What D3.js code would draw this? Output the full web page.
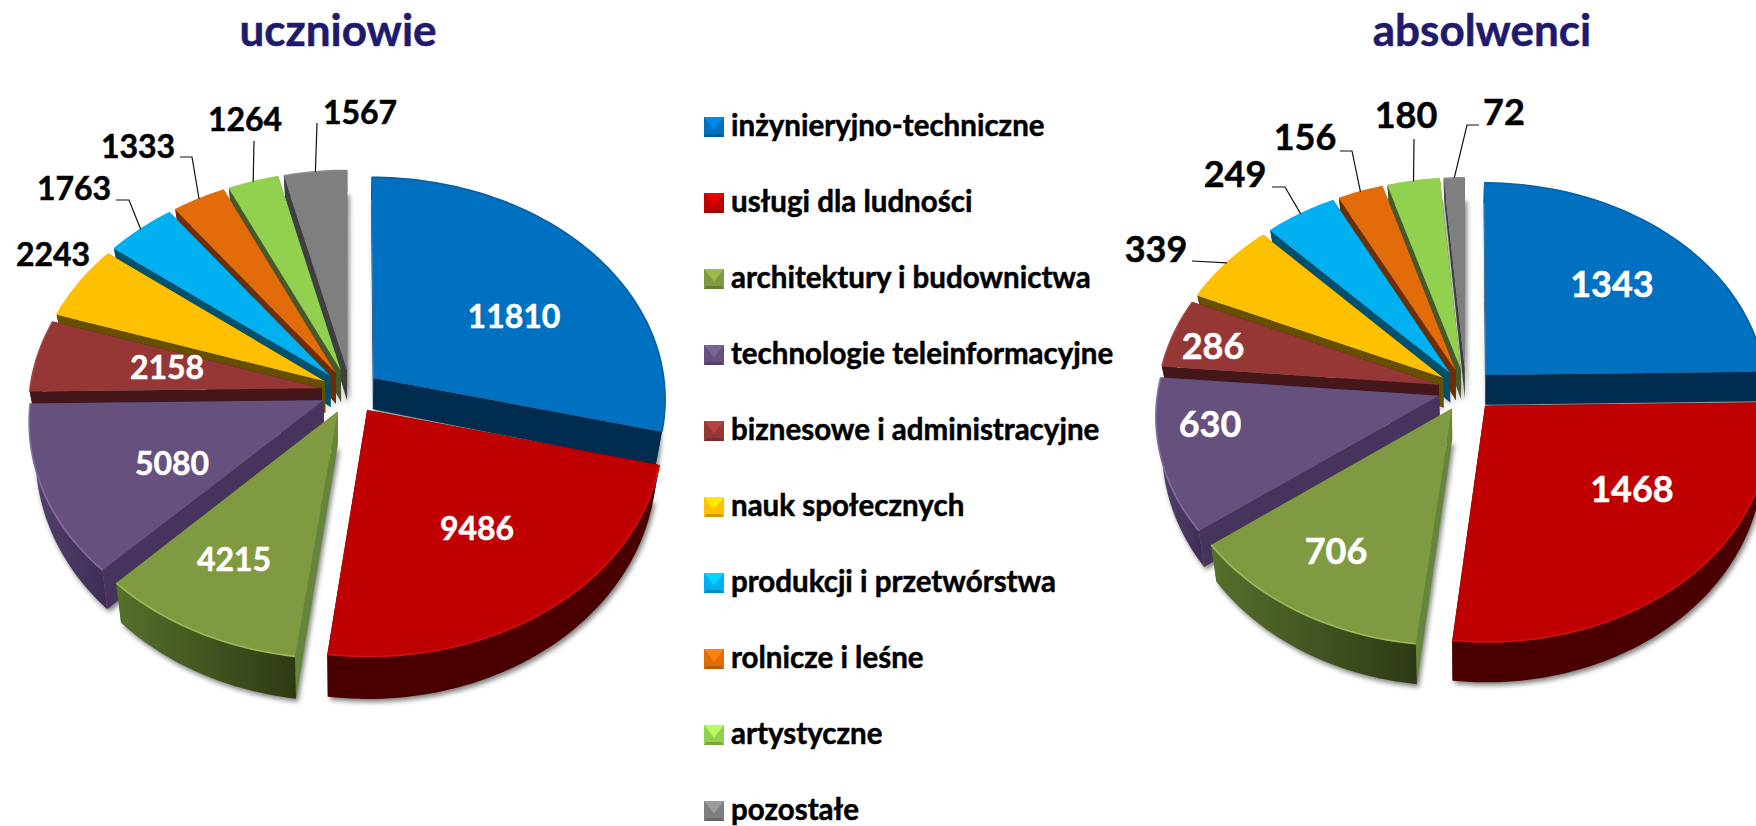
<!DOCTYPE html>
<html lang="pl">
<head>
<meta charset="utf-8">
<title>uczniowie i absolwenci</title>
<script src="https://cdn.jsdelivr.net/npm/d3@7/dist/d3.min.js"></script>
<style>
html,body{margin:0;padding:0;background:#fff;overflow:hidden}
svg{display:block}
text{font-family:Lato,"Open Sans",sans-serif;font-weight:700;stroke:currentColor;stroke-width:.5px;paint-order:stroke}
</style>
</head>
<body>
<div id="chart"></div>
<script>
// ---- data ----
const categories = ["inżynieryjno-techniczne","usługi dla ludności","architektury i budownictwa","technologie teleinformacyjne","biznesowe i administracyjne","nauk społecznych","produkcji i przetwórstwa","rolnicze i leśne","artystyczne","pozostałe"];
const uczniowie  = [11810,9486,4215,5080,2158,2243,1763,1333,1264,1567];
const absolwenci = [1343,1468,706,630,286,339,249,156,180,72];

// ---- styles ----
const topColors  = ["#0070c0","#c00000","#7f9a41","#65507e","#953735","#ffc000","#00b0f0","#e36c0a","#92d050","#7f7f7f"];
const rimColors  = ["#0a5f9f","#d01212","#9cbc5c","#8470a6","#a34442","#ffc000","#00b0f0","#e36c0a","#92d050","#8a8a8a"];
const faceColors = ["#002c50","#4a0000","#66843a","#47345c","#45171a","#665000","#00506f","#6b2e08","#45592a","#3f3f3f"];
const wallLeft   = ["#002c50","#4a0000","#56702c","#54416f","#45171a","#665000","#00506f","#6b2e08","#45592a","#3f3f3f"];
const wallRight  = ["#002c50","#4a0000","#2f3a14","#3f2f55","#45171a","#665000","#00506f","#6b2e08","#45592a","#3f3f3f"];

// ---- layout ----
const W = 1756, H = 826;
const pies = [
  { id:"l", title:"uczniowie",  titleX:338,  values:uczniowie,  cx:350.5, cy:391.5, rx:292, ky:221, wall:32,   font:32,
    labels:[[514,316],[477,528],[234,559],[172,463],[167,367],[53,254],[74,188],[138,146],[245,119],[360,112]],
    inside:[1,1,1,1,1,0,0,0,0,0],
    leaders:[null,null,null,null,null,null,[[129,200],[116,200]],[[192,157],[180,157]],[[254,141]],[[317,123]]] },
  { id:"r", title:"absolwenci", titleX:1482, values:absolwenci, cx:1466, cy:390,   rx:281, ky:212, wall:30.5, font:36,
    labels:[[1612,284],[1632,489],[1336,551],[1210,424],[1213,346],[1156,249],[1235,174],[1305,137],[1406,115],[1504,112]],
    inside:[1,1,1,1,1,0,0,0,0,0],
    leaders:[null,null,null,null,null,[[1192,261]],[[1285,187],[1272,187]],[[1352,151],[1340,151]],[[1414,139]],[[1467,125],[1479,125]]] }
];
const persp = 0.09, explode = 0.1, wallGrow = 0.3, bottomShrink = 0.98;

const colorOf = d3.scaleOrdinal().domain(categories).range(topColors);
const svg = d3.select("#chart").append("svg").attr("width",W).attr("height",H).attr("viewBox",`0 0 ${W} ${H}`);
const defs = svg.append("defs");
defs.append("filter").attr("id","soft").attr("x","-10%").attr("y","-10%").attr("width","120%").attr("height","120%")
  .append("feGaussianBlur").attr("stdDeviation",2.6);
const lineGen = d3.line();

pies.forEach(p => {
  const project = (u,v,bottom) => {
    const s = 1/(1-persp*v);
    let x = p.cx + p.rx*u*s, y = p.cy + p.ky*v*s;
    if (bottom) { x = p.cx + (x-p.cx)*bottomShrink; y += p.wall*(1+wallGrow*v); }
    return [x,y];
  };
  const arcs = d3.pie().sort(null).value(d=>d)(p.values).map((a,i) => {
    const mid = (a.startAngle+a.endAngle)/2;
    return {...a, i, mid, u0:explode*Math.sin(mid), v0:-explode*Math.cos(mid)};
  });
  const rimPts = (a,bottom) => {
    const n = Math.max(6,Math.ceil((a.endAngle-a.startAngle)*40));
    return d3.range(n+1).map(k => {
      const t = a.startAngle+(a.endAngle-a.startAngle)*k/n;
      return project(a.u0+Math.sin(t), a.v0-Math.cos(t), bottom);
    });
  };
  const apex = (a,bottom) => project(a.u0,a.v0,bottom);
  const closed = pts => lineGen(pts)+"Z";
  const g = svg.append("g").attr("class","pie-"+p.id);

  // soft shadow beneath the solid
  const sh = g.append("g").attr("filter","url(#soft)").attr("transform","translate(2,3)");
  arcs.forEach(a => sh.append("path").attr("d",closed([apex(a,true),...rimPts(a,true)])).attr("fill","rgba(0,0,0,.5)"));

  // painter's order: far slices first
  const order = arcs.slice().sort((a,b)=>d3.descending(Math.cos(a.mid),Math.cos(b.mid)));
  order.forEach(a => {
    const i = a.i, top = rimPts(a,false), bot = rimPts(a,true);
    const gid = `wall-${p.id}-${i}`;
    const xs = top.map(d=>d[0]);
    const gr = defs.append("linearGradient").attr("id",gid).attr("gradientUnits","userSpaceOnUse")
      .attr("x1",d3.min(xs)).attr("x2",d3.max(xs)).attr("y1",0).attr("y2",0);
    gr.append("stop").attr("offset",0).attr("stop-color",wallLeft[i]);
    gr.append("stop").attr("offset",1).attr("stop-color",wallRight[i]);
    const s = g.append("g").attr("class","slice");
    // cut faces
    s.append("path").attr("d",closed([apex(a),top[0],bot[0],apex(a,true)])).attr("fill",faceColors[i]);
    s.append("path").attr("d",closed([apex(a),top[top.length-1],bot[bot.length-1],apex(a,true)])).attr("fill",faceColors[i]);
    // outer wall
    s.append("path").attr("d",closed([...top,...bot.slice().reverse()])).attr("fill",`url(#${gid})`);
    // top face
    s.append("path").attr("d",closed([apex(a),...top])).attr("fill",colorOf(categories[i]))
      .datum(p.values[i]);
    s.append("path").attr("d",lineGen(top)).attr("fill","none").attr("stroke",rimColors[i]).attr("stroke-width",1.6);
  });

  // title
  svg.append("text").attr("x",p.titleX).attr("y",30).attr("dy","0.36em").attr("text-anchor","middle")
    .attr("font-size",44).style("color","#1f1a6e").attr("fill","#1f1a6e").text(p.title);

  // leaders & value labels
  arcs.forEach(a => {
    const i = a.i;
    if (p.leaders[i]) {
      const start = project(a.u0+Math.sin(a.mid), a.v0-Math.cos(a.mid));
      svg.append("path").attr("d",lineGen([start,...p.leaders[i]])).attr("fill","none")
        .attr("stroke","#111").attr("stroke-width",1.2);
    }
    const [lx,ly] = p.labels[i];
    const col = p.inside[i]?"#fff":"#000";
    svg.append("text").attr("x",lx).attr("y",ly).attr("dy","0.36em").attr("text-anchor","middle")
      .attr("font-size",p.font).style("color",col).attr("fill",col).text(d3.format("d")(p.values[i]));
  });
});

// legend
const legendY = d3.scalePoint().domain(categories).range([127,811]);
const lx0 = 704, ls = 20;
const lg = svg.append("g").attr("class","legend");
categories.forEach((c,i) => {
  const y = legendY(c)-ls/2, x = lx0, base = d3.color(colorOf(c));
  const row = lg.append("g");
  const poly = (pts,col)=>row.append("path").attr("d",lineGen(pts)+"Z").attr("fill",col);
  poly([[x,y],[x+ls,y],[x+ls,y+ls],[x,y+ls]], base);
  poly([[x,y],[x+ls,y],[x+ls/2,y+ls*.62]], base.brighter(0.55));
  poly([[x,y+ls],[x+ls,y+ls],[x+ls-3,y+ls-3],[x+3,y+ls-3]], base.darker(0.6));
  row.append("text").attr("x",731).attr("y",legendY(c)).attr("dy","0.3em")
    .attr("font-size",29.5).style("color","#000").attr("fill","#000").text(c);
});
</script>
</body>
</html>
